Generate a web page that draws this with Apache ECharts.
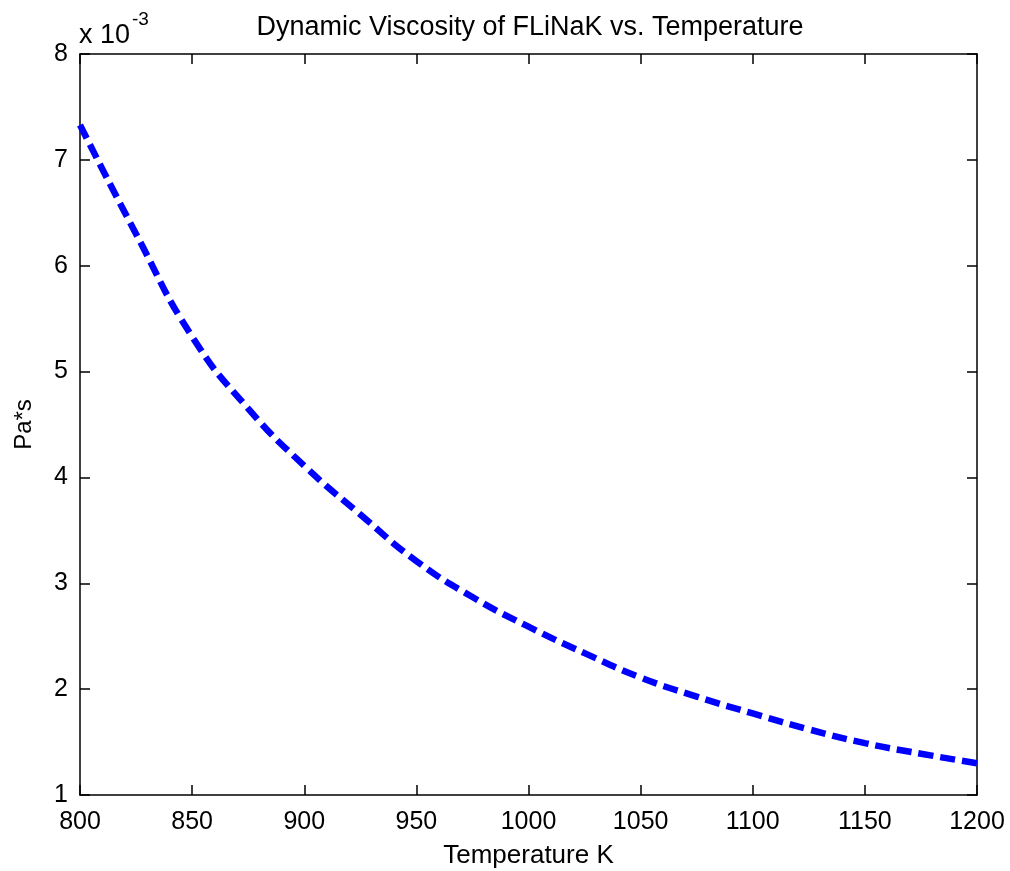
<!DOCTYPE html>
<html>
<head>
<meta charset="utf-8">
<script src="https://cdn.jsdelivr.net/npm/echarts@6/dist/echarts.min.js"></script>
<style>
html,body{margin:0;padding:0;background:#fff;}
#chart{width:1010px;height:871px;}
</style>
</head>
<body>
<div id="chart"></div>
<script>
// Temperature (K)
var temperatures = [800, 825, 850, 875, 900, 925, 950, 975, 1000, 1025, 1050, 1075, 1100, 1125, 1150, 1175, 1200];
// Dynamic viscosity in units of 1e-3 Pa*s
var viscosity = [7.33, 6.30, 5.33, 4.65, 4.11, 3.65, 3.21, 2.87, 2.59, 2.34, 2.11, 1.93, 1.77, 1.62, 1.49, 1.39, 1.30];
var xTicks = [800, 850, 900, 950, 1000, 1050, 1100, 1150, 1200];
var yTicks = [1, 2, 3, 4, 5, 6, 7, 8];

var titleText = 'Dynamic Viscosity of FLiNaK vs. Temperature';
var xName = 'Temperature K';
var yName = 'Pa*s';

var chart = echarts.init(document.getElementById('chart'), null, {renderer: 'canvas'});
var font = 'Liberation Sans, Arial, sans-serif';
var pts = temperatures.map(function (t, i) { return [t, viscosity[i]]; });

var axisCommon = {
  axisLine: {show: true, lineStyle: {color: '#000', width: 1.5}},
  axisTick: {show: true, inside: true, length: 10, lineStyle: {color: '#000', width: 1.5}},
  splitLine: {show: false}
};

chart.setOption({
  animation: false,
  backgroundColor: '#fff',
  title: {
    text: titleText,
    left: 525, top: 9, textAlign: 'center',
    textStyle: {fontFamily: font, fontSize: 27, fontWeight: 'normal', color: '#000'}
  },
  graphic: [
    {type: 'text', left: 79, top: 22, style: {text: 'x 10', font: '27px ' + font, fill: '#000'}},
    {type: 'text', left: 132, top: 10, style: {text: '-3', font: '19px ' + font, fill: '#000'}}
  ],
  grid: {left: 80, right: 33, top: 54, bottom: 76, containLabel: false, outerBoundsMode: 'none'},
  xAxis: [
    Object.assign({
      type: 'value', min: xTicks[0], max: xTicks[xTicks.length - 1], interval: 50,
      name: xName, nameLocation: 'middle', nameGap: 48,
      nameTextStyle: {fontFamily: font, fontSize: 26, color: '#000'},
      axisLabel: {fontFamily: font, fontSize: 25, color: '#000', margin: 15,
        formatter: function (v) { return String(v); }}
    }, axisCommon),
    Object.assign({
      type: 'value', position: 'top', min: xTicks[0], max: xTicks[xTicks.length - 1], interval: 50,
      axisLabel: {show: false}
    }, axisCommon)
  ],
  yAxis: [
    Object.assign({
      type: 'value', min: yTicks[0], max: yTicks[yTicks.length - 1], interval: 1,
      name: yName, nameLocation: 'middle', nameGap: 44, nameRotate: 90,
      nameTextStyle: {fontFamily: font, fontSize: 24, color: '#000'},
      axisLabel: {fontFamily: font, fontSize: 25, color: '#000', margin: 12,
        formatter: function (v) { return String(v); }}
    }, axisCommon),
    Object.assign({
      type: 'value', position: 'right', min: yTicks[0], max: yTicks[yTicks.length - 1], interval: 1,
      axisLabel: {show: false}
    }, axisCommon)
  ],
  series: [{
    type: 'line',
    data: pts,
    smooth: true,
    symbol: 'none',
    lineStyle: {color: '#0000ff', width: 6.5, type: [15, 7], cap: 'butt'}
  }]
});
</script>
</body>
</html>
